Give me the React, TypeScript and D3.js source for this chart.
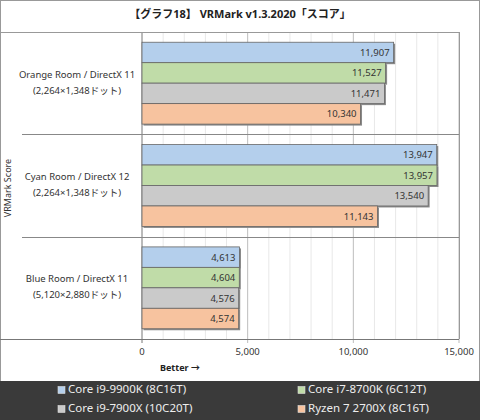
import * as d3 from 'd3'
import React from 'react'

const title = '【グラフ18】 VRMark v1.3.2020「スコア」'
const categories = ['Orange Room / DirectX 11', 'Cyan Room / DirectX 12', 'Blue Room / DirectX 11']
const resolutions = ['(2,264×1,348ドット)', '(2,264×1,348ドット)', '(5,120×2,880ドット)']
const seriesNames = ['Core i9-9900K (8C16T)', 'Core i7-8700K (6C12T)', 'Core i9-7900X (10C20T)', 'Ryzen 7 2700X (8C16T)']
const seriesColors = ['#b4cfec', '#c0dca8', '#cacaca', '#f7c39f']
const values = [
    [11907, 13947, 4613],
    [11527, 13957, 4604],
    [11471, 13540, 4576],
    [10340, 11143, 4574],
]
const majorTicks = [0, 5000, 10000, 15000]
const minorTicks = d3.range(1000, 15000, 1000).filter((t) => t % 5000 !== 0)

const W = 480
const H = 420
const font = '"Noto Sans", "Noto Sans CJK JP", sans-serif'

const App = (): JSX.Element => {
    const x = d3.scaleLinear().domain([0, 15000]).range([142, 459])
    const y = d3.scaleBand().domain(categories).range([32, 339])
    const ys = d3.scaleBand().domain(seriesNames).range([0, y.bandwidth()]).paddingInner(0).paddingOuter(0.5)
    const fmt = d3.format(',')

    return (
        <svg width={W} height={H} style={{ position: 'absolute', left: 0, top: 0 }} fontFamily={font}>
            <rect x={0.5} y={0.5} width={W - 1} height={H - 1} fill="#fff" stroke="#999" />
            <text x={240} y={15} textAnchor="middle" dominantBaseline="middle" fontSize={11} fontWeight="bold" fill="#222">
                {title}
            </text>

            {/* grid */}
            {minorTicks.map((t) => (
                <line key={`m${t}`} x1={x(t)} x2={x(t)} y1={32} y2={339} stroke="#e8e8e8" strokeWidth={1} />
            ))}
            {majorTicks.map((t) => (
                <line key={`M${t}`} x1={x(t)} x2={x(t)} y1={32} y2={343} stroke={t === 0 ? '#777' : '#bdbdbd'} strokeWidth={1} />
            ))}
            <line x1={0} x2={459} y1={32.5} y2={32.5} stroke="#999" />
            <line x1={0} x2={459} y1={339.5} y2={339.5} stroke="#777" />
            <line x1={459.5} x2={459.5} y1={32} y2={339} stroke="#999" />
            {categories.slice(1).map((c) => (
                <line key={c} x1={22} x2={459} y1={Math.round(y(c)!) + 0.5} y2={Math.round(y(c)!) + 0.5} stroke="#888" />
            ))}

            {/* bars */}
            {values.map((row, si) =>
                row.map((v, ci) => {
                    const by = y(categories[ci])! + ys(seriesNames[si])!
                    const bw = x(v) - x(0)
                    return (
                        <g key={`${si}-${ci}`}>
                            <rect x={x(0) + 1.5} y={by + 1.5} width={bw} height={ys.bandwidth()} fill="#8a8a8a" />
                            <rect x={x(0)} y={by} width={bw} height={ys.bandwidth()} fill={seriesColors[si]} stroke="#666" strokeWidth={0.8} />
                            <text x={x(v) - 4} y={by + ys.bandwidth() / 2 + 1} textAnchor="end" dominantBaseline="middle" fontSize={9.5} fill="#333">
                                {fmt(v)}
                            </text>
                        </g>
                    )
                })
            )}

            {/* category labels */}
            {categories.map((c, i) => {
                const cy = y(c)! + y.bandwidth() / 2
                return (
                    <g key={c} fontSize={9.5} fill="#333" textAnchor="middle">
                        <text x={77} y={cy - 8} dominantBaseline="middle">{c}</text>
                        <text x={77} y={cy + 8} dominantBaseline="middle">{resolutions[i]}</text>
                    </g>
                )
            })}
            <text transform="translate(9,188) rotate(-90)" textAnchor="middle" dominantBaseline="middle" fontSize={9} fill="#333">
                VRMark Score
            </text>

            {/* x axis labels */}
            {majorTicks.map((t) => (
                <text key={t} x={x(t)} y={352} textAnchor="middle" dominantBaseline="middle" fontSize={9.5} fill="#333">
                    {fmt(t)}
                </text>
            ))}
            <text x={160} y={369} dominantBaseline="middle" fontSize={9} fontWeight="bold" fill="#222">
                Better →
            </text>

            {/* legend */}
            <rect x={0} y={381} width={W} height={H - 381} fill="#3a3a3a" />
            {seriesNames.map((s, i) => {
                const lx = i % 2 === 0 ? 58 : 298
                const ly = i < 2 ? 390 : 409
                return (
                    <g key={s}>
                        <rect x={lx} y={ly - 3.5} width={7} height={7} fill={seriesColors[i]} stroke="#ddd" strokeWidth={0.6} />
                        <text x={lx + 10} y={ly} dominantBaseline="middle" fontSize={11.5} fill="#eee">
                            {s}
                        </text>
                    </g>
                )
            })}
        </svg>
    )
}

export default App
